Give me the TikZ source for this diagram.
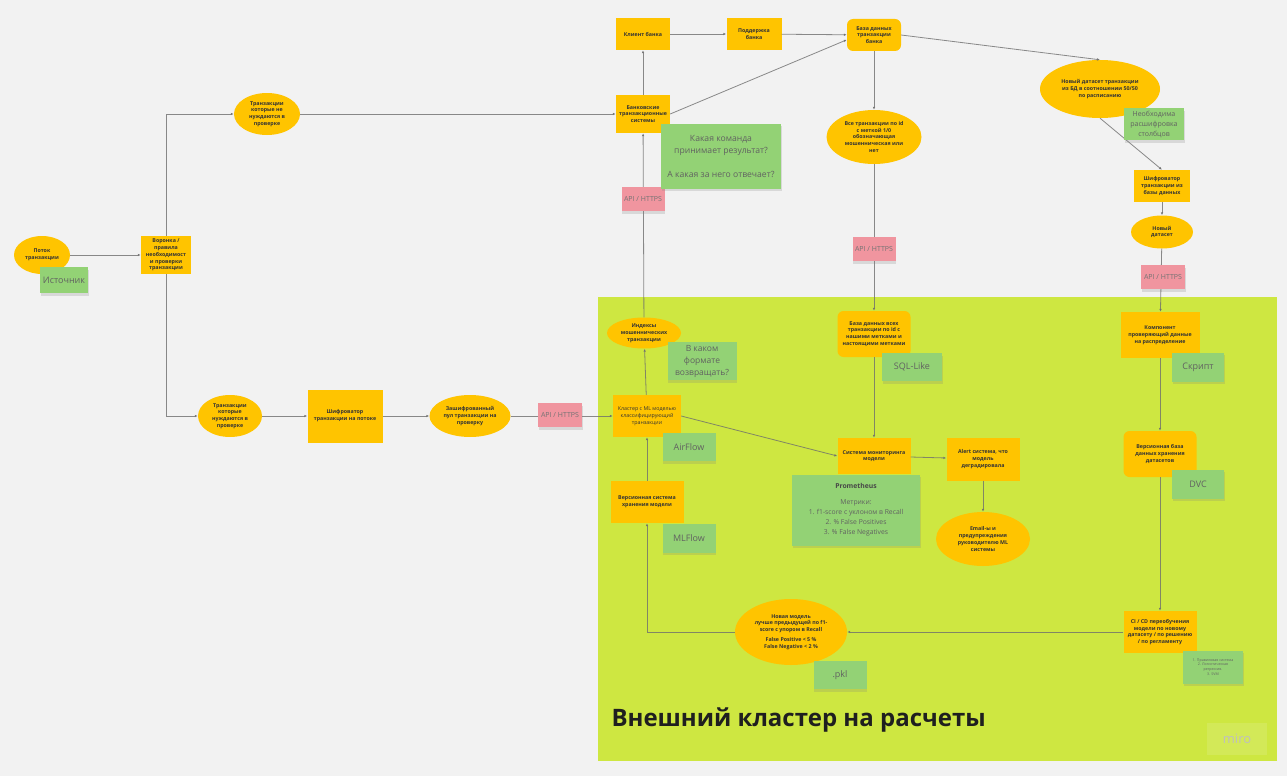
\documentclass[tikz,border=0pt]{standalone}
\usepackage{fontspec}
\setmainfont{Open Sans}
\usepackage{xcolor}
\usepackage{tikz}
\usetikzlibrary{positioning,arrows.meta,shapes.geometric,shadows}
\definecolor{bgcol}{HTML}{F2F2F2}
\definecolor{limecol}{HTML}{CEE741}
\definecolor{sticky}{HTML}{FFC400}
\definecolor{notegreen}{HTML}{93D275}
\definecolor{notepink}{HTML}{F0959F}
\definecolor{linecol}{HTML}{6E6E6E}

\begin{document}
\begin{tikzpicture}[x=1pt, y=-1pt,
  sz/.style 2 args={minimum width=#1, minimum height=#2},
  box/.style={rectangle, fill=sticky, align=center, font=\fontsize{5.3}{6.8}\selectfont\bfseries, text=black!80, inner sep=1pt},
  dbbox/.style={box, rounded corners=6pt},
  oval/.style={ellipse, fill=sticky, align=center, font=\fontsize{5.3}{6.8}\selectfont\bfseries, text=black!80, inner sep=0pt},
  note/.style={rectangle, fill=notegreen, align=center, text=black!62, font=\fontsize{9}{12}\selectfont, inner sep=1pt, drop shadow={shadow xshift=0.5pt, shadow yshift=-2.5pt, opacity=0.22}},
  apinote/.style={note, fill=notepink, text=black!55, font=\fontsize{7}{8}\selectfont},
  flow/.style={-{Latex[length=3pt,width=2.6pt]}, draw=linecol, draw opacity=0.8, line width=0.8pt}]
\fill[bgcol] (0,0) rectangle (1287,776);
\fill[limecol] (598,297) rectangle (1277,761);
\useasboundingbox (0,0) rectangle (1287,776);

% left part: stream and funnel
\node[oval, sz={56}{38}] (src) at (42,255) {Поток\\транзакции};
\node[box, sz={50}{38}] (funnel) at (166,255) {Воронка /\\правила\\необходимост\\и проверки\\транзакции};
\node[oval, sz={66}{42}] (nocheck) at (267,114) {Транзакции\\которые не\\нуждаются в\\проверке};
\node[oval, sz={64}{42}] (check) at (230,416) {Транзакции\\которые\\нуждаются в\\проверке};
\node[box, sz={75}{53}] (encstream) at (345,416) {Шифроватор\\транзакции на потоке};
\node[oval, sz={81}{42}] (encpool) at (470,416) {Зашифрованный\\пул транзакции на\\проверку};

% bank side
\node[box, sz={68}{42}, font=\fontsize{5.3}{6.8}\selectfont] (cluster) at (647,416) {Кластер с ML моделью\\классифицирующий\\транзакции};
\node[oval, sz={74}{31}] (fraudidx) at (644,333) {Индексы\\мошеннических\\транзакции};
\node[box, sz={54}{38}] (banksys) at (643,114) {Банковские\\транзакционные\\системы};
\node[box, sz={54}{32}] (client) at (643,34) {Клиент банка};
\node[box, sz={55}{32}] (support) at (754,34) {Поддержка\\банка};
\node[dbbox, sz={54}{32}] (bankdb) at (874,35) {База данных\\транзакции\\банка};
\node[oval, sz={95}{54}] (alltx) at (874,137) {Все транзакции по id\\с меткой 1/0\\обозначающая\\мошенническая или\\нет};

% monitoring
\node[dbbox, sz={73}{46}] (labeldb) at (874,334) {База данных всех\\транзакции по id с\\нашими метками и\\настоящими метками};
\node[box, sz={73}{36}] (monitor) at (874,456) {Система мониторинга\\модели};
\node[box, sz={73}{43}] (alert) at (983,459) {Alert система, что\\модель\\деградировала};
\node[oval, sz={94}{54}] (email) at (983,539) {Email-ы и\\предупреждения\\руководителю ML\\системы};

% retraining
\node[oval, sz={120}{58}] (newds) at (1100,89) {Новый датасет транзакции\\из БД в соотношении 50/50\\по расписанию};
\node[box, sz={56}{32}] (dbenc) at (1162,186) {Шифроватор\\транзакции из\\базы данных};
\node[oval, sz={62}{33}] (newset) at (1162,232) {Новый\\датасет};
\node[box, sz={79}{46}] (distcheck) at (1160,335) {Компонент\\проверяющий данные\\на распределение};
\node[dbbox, sz={73}{46}] (dsver) at (1160,454) {Версионная база\\данных хранения\\датасетов};
\node[box, sz={73}{42}] (retrain) at (1160,632) {CI / CD переобучения\\модели по новому\\датасету / по решению\\/ по регламенту};
\node[oval, sz={112}{66}] (newmodel) at (791,632) {Новая модель\\лучше предыдущей по f1-\\score с упором в Recall\\[3pt]False Positive < 5 \%\\False Negative < 2 \%};
\node[box, sz={73}{42}] (modelver) at (647,502) {Версионная система\\хранения модели};

\draw[flow] (src) -- (funnel);
\draw[flow] (funnel.north) |- (nocheck.west);
\draw[flow] (funnel.south) |- (check.west);
\draw[flow] (check) -- (encstream);
\draw[flow] (encstream) -- (encpool);
\draw[flow] (encpool) -- (cluster);
\draw[flow] (cluster) -- (fraudidx);
\draw[flow] (fraudidx) -- (banksys);
\draw[flow] (nocheck) -- (banksys);
\draw[flow] (banksys) -- (client);
\draw[flow] (client) -- (support);
\draw[flow] (support) -- (bankdb);
\draw[flow] (banksys.east) -- (bankdb.190);
\draw[flow] (bankdb.east) -- (newds.north);
\draw[flow] (bankdb) -- (alltx);
\draw[flow] (alltx) -- (labeldb);
\draw[flow] (labeldb) -- (monitor);
\draw[flow] (cluster.east) -- (monitor.west);
\draw[flow] (monitor) -- (alert);
\draw[flow] (alert) -- (email);
\draw[flow] (newds.south) -- (dbenc.north);
\draw[flow] (dbenc) -- (newset);
\draw[flow] (newset) -- (distcheck);
\draw[flow] (distcheck) -- (dsver);
\draw[flow] (dsver) -- (retrain);
\draw[flow] (retrain) -- (newmodel);
\draw[flow] (newmodel.west) -| (modelver.south);
\draw[flow] (modelver) -- (cluster);

% stickers
\node[note, sz={48}{26}] (srcnote) at (64,280) {Источник};
\node[apinote, sz={44}{24}] (api1) at (560,415) {API / HTTPS};
\node[apinote, sz={43}{24}] (api2) at (643,199) {API / HTTPS};
\node[apinote, sz={43}{24}] (api3) at (874,249) {API / HTTPS};
\node[apinote, sz={44}{24}] (api4) at (1163,277) {API / HTTPS};
\node[note, sz={53}{28}] (airflow) at (689,447) {AirFlow};
\node[note, sz={69}{38}, font=\fontsize{8.5}{12}\selectfont] (formatnote) at (702,361) {В каком\\формате\\возвращать?};
\node[note, sz={120}{65}, font=\fontsize{8.6}{12}\selectfont] (teamnote) at (721,156) {Какая команда\\принимает результат?\\[12pt]А какая за него отвечает?};
\node[note, sz={60}{28}] (sqlnote) at (912,367) {SQL-Like};
\node[note, sz={128}{71}, font=\fontsize{6.8}{10}\selectfont] (prom) at (856,510) {\textcolor{black!72}{\textbf{Prometheus}}\\[6pt]Метрики:\\1. f1-score с уклоном в Recall\\2. \% False Positives\\3. \% False Negatives};
\node[note, sz={60}{32}, font=\fontsize{7}{10}\selectfont] (decodenote) at (1154,124) {Необходима\\расшифровка\\столбцов};
\node[note, sz={52}{29}] (scriptnote) at (1198,367) {Скрипт};
\node[note, sz={52}{29}] (dvcnote) at (1198,484) {DVC};
\node[note, sz={60}{33}, font=\fontsize{3.6}{4.8}\selectfont] (algnote) at (1213,667) {1. Правиловая система\\2. Логистическая\\регрессия.\\3. SVM};
\node[note, sz={53}{29}] (mlflow) at (689,538) {MLFlow};
\node[note, sz={53}{28}] (pklnote) at (840,675) {.pkl};

\node[anchor=west, font=\fontsize{24}{28}\selectfont\bfseries, text=black!88] (title) at (608,720) {Внешний кластер на расчеты};
\node[fill=white, fill opacity=0.12, text opacity=1, text=black!25, font=\fontsize{13}{15}\selectfont, sz={60}{32}] (miro) at (1237,739) {miro};
\end{tikzpicture}
\end{document}
